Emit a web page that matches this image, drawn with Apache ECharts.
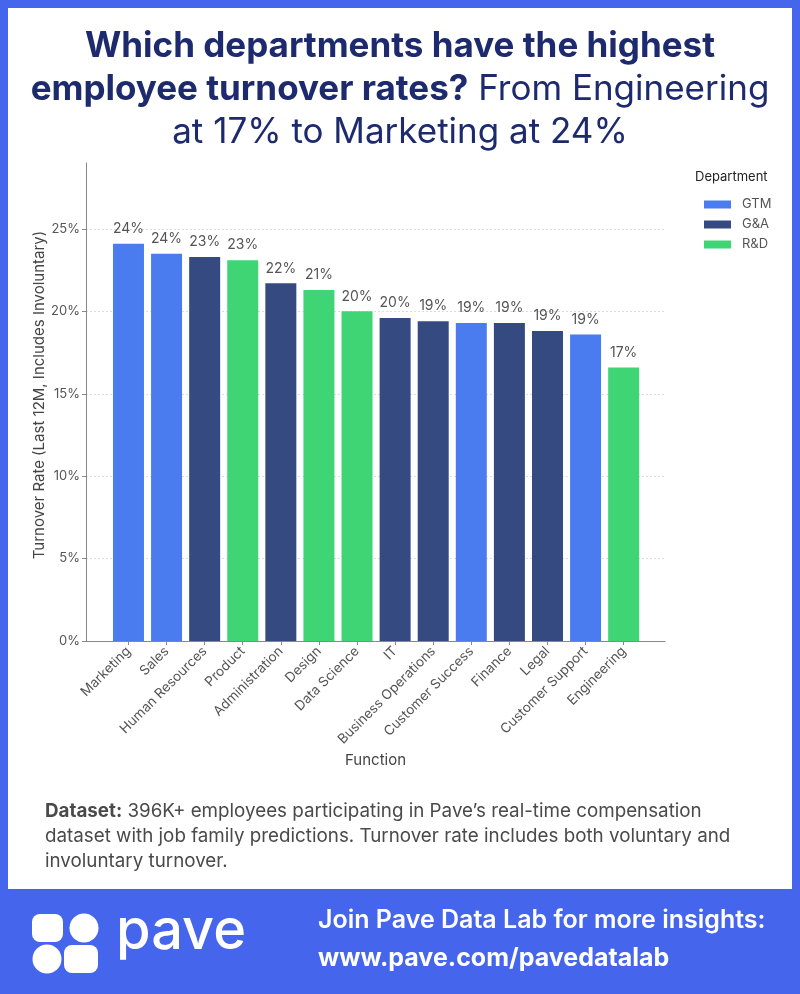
<!DOCTYPE html>
<html>
<head>
<meta charset="utf-8">
<script src="https://cdn.jsdelivr.net/npm/echarts@6/dist/echarts.min.js"></script>
<style>
html,body{margin:0;padding:0;background:#4565ec;}
#chart{width:800px;height:994px;}
</style>
</head>
<body>
<div id="chart"></div>
<script>
const categories = ['Marketing','Sales','Human Resources','Product','Administration','Design','Data Science','IT','Business Operations','Customer Success','Finance','Legal','Customer Support','Engineering'];
const values = [24.1, 23.5, 23.3, 23.1, 21.7, 21.3, 20.0, 19.6, 19.4, 19.3, 19.3, 18.8, 18.6, 16.6];
const departments = ['GTM','GTM','G&A','R&D','G&A','R&D','R&D','G&A','G&A','GTM','G&A','G&A','GTM','R&D'];
const deptNames = ['GTM','G&A','R&D'];
const deptColors = ['#4a7cf0','#344a80','#3fd574'];
const yTicks = [0,5,10,15,20,25];

const FONT = 'Inter';
const chart = echarts.init(document.getElementById('chart'));

const series = deptNames.map((d, k) => ({
  name: d,
  type: 'bar',
  barWidth: 31,
  barGap: '-100%',
  itemStyle: { color: deptColors[k] },
  label: {
    show: true, position: 'top', distance: 8,
    color: '#555', fontSize: 14, fontFamily: FONT,
    formatter: p => Math.round(p.value[1]) + '%'
  },
  data: values.map((v, i) => departments[i] === d ? [i, v] : null).filter(x => x)
}));

const idx = categories.map((c, i) => i);

chart.setOption({
  backgroundColor: '#4565ec',
  animation: false,
  textStyle: { fontFamily: FONT },
  graphic: [
    { type: 'rect', z: -10, shape: { x: 8, y: 8, width: 784, height: 881 }, style: { fill: '#ffffff' } },
    { type: 'text', left: 'center', top: 29, style: { text: 'Which departments have the highest', font: 'bold 35px Inter', fill: '#1d2b6e' } },
    { type: 'text', left: 'center', top: 72, style: {
        text: '{b|employee turnover rates?}{r| From Engineering}',
        rich: { b: { font: 'bold 35px Inter', fill: '#1d2b6e' }, r: { font: '35px Inter', fill: '#1d2b6e' } } } },
    { type: 'text', left: 'center', top: 115, style: { text: 'at 17% to Marketing at 24%', font: '35px Inter', fill: '#1d2b6e' } },
    { type: 'text', left: 695, top: 171, style: { text: 'Department', font: '13px Inter', fill: '#222' } },
    { type: 'text', left: 45, top: 799, style: {
        text: '{b|Dataset:} 396K+ employees participating in Pave\u2019s real-time compensation\ndataset with job family predictions. Turnover rate includes both voluntary and\ninvoluntary turnover.',
        font: '18.8px Inter', fill: '#4a4a4a', lineHeight: 25,
        rich: { b: { font: 'bold 18.8px Inter', fill: '#4a4a4a', lineHeight: 25 } } } },
    { type: 'rect', shape: { x: 32, y: 914, width: 31, height: 28, r: 8 }, style: { fill: '#fff' } },
    { type: 'circle', shape: { cx: 84, cy: 928, r: 14.5 }, style: { fill: '#fff' } },
    { type: 'circle', shape: { cx: 47, cy: 959, r: 14.5 }, style: { fill: '#fff' } },
    { type: 'rect', shape: { x: 64, y: 945, width: 34, height: 28, r: 8 }, style: { fill: '#fff' } },
    { type: 'text', left: 116, top: 904, style: { text: 'pave', font: '500 56px Inter', fill: '#fff' } },
    { type: 'text', left: 318, top: 908, style: { text: 'Join Pave Data Lab for more insights:', font: '600 25px Inter', fill: '#fff' } },
    { type: 'text', left: 318, top: 946, style: { text: 'www.pave.com/pavedatalab', font: 'bold 25px Inter', fill: '#fff' } }
  ],
  legend: {
    orient: 'vertical', left: 699, top: 193,
    itemWidth: 27, itemHeight: 8, itemGap: 7, icon: 'rect',
    data: deptNames,
    textStyle: { fontSize: 13, color: '#555', lineHeight: 13, padding: [0, 0, 0, 6] }
  },
  grid: { left: 86, right: 135, top: 163, bottom: 353, containLabel: false },
  xAxis: {
    type: 'value', min: -1.115, max: 14.085,
    name: 'Function', nameLocation: 'middle', nameGap: 112,
    nameTextStyle: { fontSize: 15, color: '#444' },
    axisLine: { show: true, onZero: false, lineStyle: { color: '#888' } },
    axisTick: { show: true, length: 4, lineStyle: { color: '#888' }, customValues: idx },
    axisLabel: { rotate: 45, fontSize: 13.5, color: '#555', margin: 8, customValues: idx, formatter: v => categories[Math.round(v)] || '' },
    splitLine: { show: false }
  },
  yAxis: {
    type: 'value', min: 0, max: 29, interval: 5,
    name: 'Turnover Rate (Last 12M, Includes Involuntary)', nameLocation: 'middle', nameGap: 39,
    nameMoveOverlap: false,
    nameTextStyle: { fontSize: 15, color: '#444', padding: [0, 0, 0, 14] },
    axisLine: { show: true, onZero: false, lineStyle: { color: '#888' } },
    axisTick: { show: true, length: 4, lineStyle: { color: '#888' }, customValues: yTicks },
    axisLabel: { fontSize: 13, color: '#555', margin: 6, customValues: yTicks, formatter: v => v + '%' },
    splitLine: { show: true, lineStyle: { color: '#ddd', type: [2, 2] } }
  },
  series: series
});
</script>
</body>
</html>
